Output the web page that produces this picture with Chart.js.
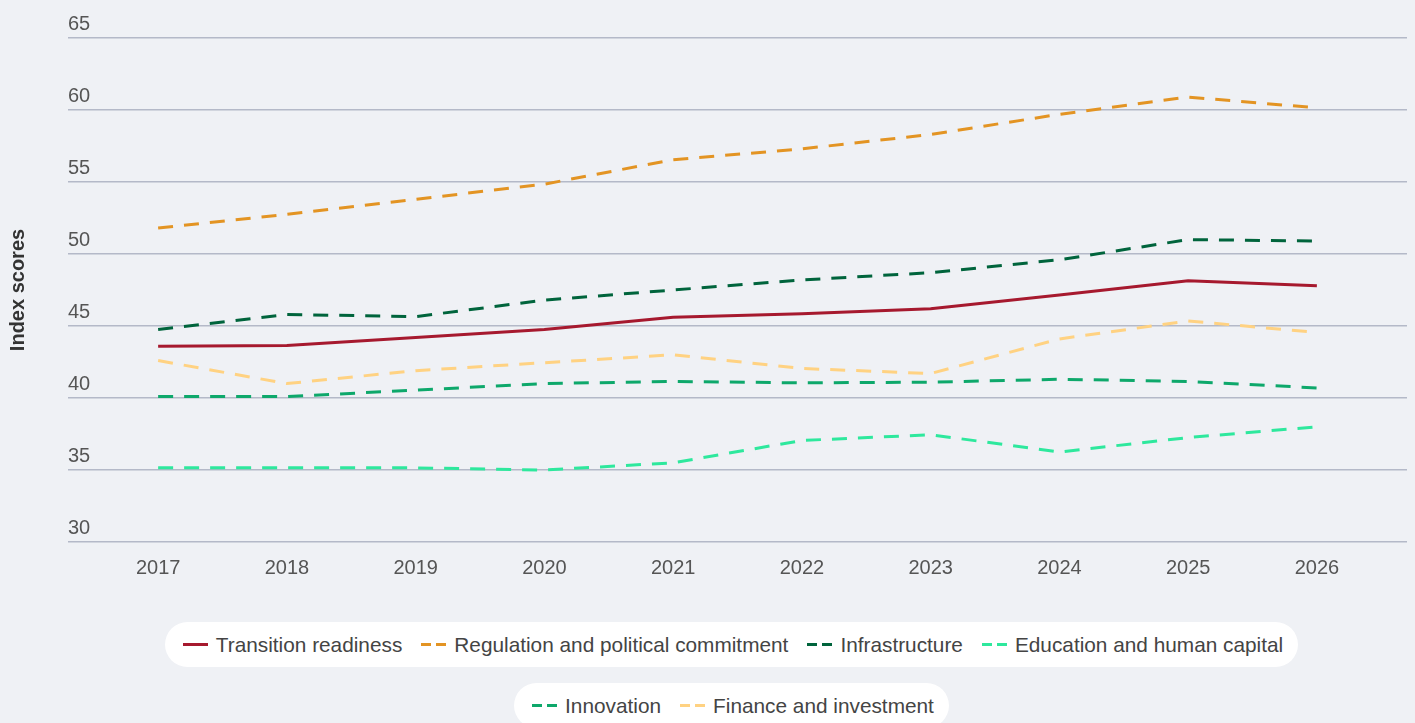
<!DOCTYPE html>
<html>
<head>
<meta charset="utf-8">
<script src="https://cdn.jsdelivr.net/npm/chart.js@4.4.0/dist/chart.umd.min.js"></script>
<style>
body { margin: 0; background: #eff1f5; font-family: "Liberation Sans", Arial, sans-serif; }
#wrap { width: 1415px; height: 600px; }
#legend { width: 1415px; padding-left: 48px; box-sizing: border-box; display: flex; flex-direction: column; align-items: center; margin-top: 22px; gap: 16px; }
.row { display: flex; background: #fff; border-radius: 23px; height: 45px; align-items: center; padding: 0 15px 0 18px; }
.item { display: flex; align-items: center; margin-right: 19px; font-size: 20.8px; color: #444; white-space: nowrap; }
.item:last-child { margin-right: 0; }
.mk { width: 25px; height: 3px; margin-right: 8px; }
</style>
</head>
<body>
<div id="wrap"><canvas id="grafica" width="1415" height="600"></canvas></div>
<div id="legend"></div>
<script>
// años y series (puntuaciones del índice)
const years = [2017, 2018, 2019, 2020, 2021, 2022, 2023, 2024, 2025, 2026];
const transitionReadiness = [43.6, 43.65, 44.2, 44.75, 45.6, 45.85, 46.2, 47.15, 48.15, 47.8];
const regulation = [51.8, 52.75, 53.8, 54.85, 56.55, 57.3, 58.3, 59.7, 60.9, 60.15];
const infrastructure = [44.75, 45.8, 45.65, 46.8, 47.5, 48.2, 48.7, 49.6, 51.0, 50.9];
const education = [35.15, 35.15, 35.15, 35.0, 35.5, 37.05, 37.45, 36.25, 37.25, 38.0];
const innovation = [40.1, 40.1, 40.55, 41.0, 41.15, 41.05, 41.1, 41.3, 41.15, 40.7];
const finance = [42.6, 41.0, 41.9, 42.45, 43.0, 42.05, 41.7, 44.1, 45.35, 44.55];
const yTicks = [30, 35, 40, 45, 50, 55, 60, 65];

const series = [
    {label: "Transition readiness", data: transitionReadiness, color: "#a6192e", dashed: false},
    {label: "Regulation and political commitment", data: regulation, color: "#e39423", dashed: true},
    {label: "Infrastructure", data: infrastructure, color: "#00643c", dashed: true},
    {label: "Education and human capital", data: education, color: "#2ee89d", dashed: true},
    {label: "Innovation", data: innovation, color: "#0ea86b", dashed: true},
    {label: "Finance and investment", data: finance, color: "#ffd282", dashed: true}
];
const legendRows = [[0, 1, 2, 3], [4, 5]];

const fuente = "'Liberation Sans', Arial, sans-serif";

const grafica = new Chart(document.getElementById("grafica").getContext("2d"), {
    type: "line",
    data: {
        datasets: series.map(s => ({
            label: s.label,
            data: s.data.map((v, i) => ({x: years[i], y: v})),
            borderColor: s.color,
            backgroundColor: s.color,
            borderWidth: 3,
            borderDash: s.dashed ? [15, 11] : [],
            pointRadius: 0,
            tension: 0,
            fill: false
        }))
    },
    options: {
        responsive: false,
        animation: false,
        layout: {padding: {top: 38, right: 8, bottom: 14, left: 0}},
        plugins: {legend: {display: false}, tooltip: {enabled: false}},
        scales: {
            x: {
                type: "linear",
                min: 2016.3,
                max: 2026.7,
                afterBuildTicks: axis => { axis.ticks = years.map(v => ({value: v})); },
                grid: {display: false},
                border: {display: false},
                ticks: {
                    padding: 6,
                    color: "#555",
                    font: {family: fuente, size: 20},
                    callback: v => String(v)
                }
            },
            y: {
                min: 30,
                max: 65,
                afterBuildTicks: axis => { axis.ticks = yTicks.map(v => ({value: v})); },
                grid: {color: "#b4b9c8", lineWidth: 1.5, drawTicks: false},
                border: {display: false},
                title: {
                    display: true,
                    text: "Index scores",
                    color: "#333",
                    font: {family: fuente, size: 20, weight: "bold"},
                    padding: {top: 6, bottom: 38}
                },
                ticks: {
                    mirror: true,
                    padding: 0,
                    labelOffset: -14,
                    color: "#555",
                    font: {family: fuente, size: 20}
                }
            }
        }
    }
});

// leyenda en html con fondo redondeado
const leyenda = document.getElementById("legend");
legendRows.forEach(fila => {
    const row = document.createElement("div");
    row.className = "row";
    fila.forEach(idx => {
        const s = series[idx];
        const item = document.createElement("div");
        item.className = "item";
        const mk = document.createElement("span");
        mk.className = "mk";
        mk.style.background = s.dashed
            ? `linear-gradient(to right, ${s.color} 0 10px, transparent 10px 15px, ${s.color} 15px 25px)`
            : s.color;
        const txt = document.createElement("span");
        txt.innerText = s.label;
        item.appendChild(mk);
        item.appendChild(txt);
        row.appendChild(item);
    });
    leyenda.appendChild(row);
});
</script>
</body>
</html>
